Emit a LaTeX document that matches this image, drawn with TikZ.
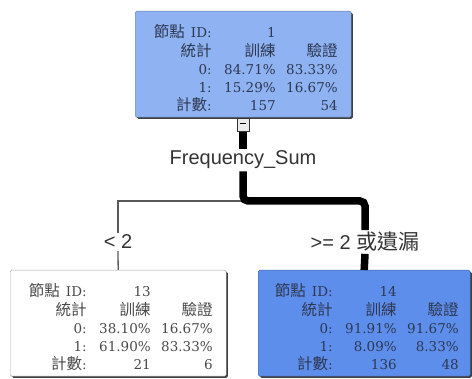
\documentclass[tikz,border=0pt]{standalone}
\usepackage{fontspec}
\usepackage{array}
\setmainfont{DejaVu Serif}
\setsansfont{Liberation Sans}
\newfontfamily\cjk{Noto Sans CJK TC}
\newcommand{\cj}[1]{{\cjk\fontsize{15.5}{18}\selectfont #1}}
\newcolumntype{R}[1]{>{\raggedleft\arraybackslash}p{#1}}
\usetikzlibrary{shadows}
\definecolor{topblue}{HTML}{8FB3F2}
\definecolor{deepblue}{HTML}{5E8EEB}
\definecolor{txtblue}{HTML}{2E3852}
\definecolor{txtgray}{HTML}{4A4A4A}
\setlength{\tabcolsep}{0pt}
\newcommand{\stats}[7]{%
  \raisebox{-6pt}[\height][\depth]{%
  \begin{tabular}{@{}R{63pt}R{64pt}R{62pt}@{}}
  \cj{節點}\hspace{6pt}ID: & #1 & \\
  \cj{統計} & \cj{訓練} & \cj{驗證}\\
  0: & #2 & #3\\
  1: & #4 & #5\\
  \cj{計數}: & #6 & #7\\
  \end{tabular}}}
\begin{document}
\begin{tikzpicture}[x=1pt,y=-1pt,
  treebox/.style={rectangle, rounded corners=1.5pt, minimum height=106pt,
    inner sep=0pt, anchor=north west, font=\fontsize{13.5}{18}\selectfont,
    drop shadow={shadow xshift=1.6pt, shadow yshift=-1.6pt, fill=black!75, opacity=1}},
  lbl/.style={font=\sffamily\fontsize{20}{22}\selectfont, text=black!80, inner sep=2pt},
  thickc/.style={line width=7.5pt, black, rounded corners=5pt},
  thinc/.style={line width=1.3pt, black!65},
  collapsebox/.style={draw=black!80, fill=black!8, line width=0.9pt, minimum width=12pt,
    minimum height=13pt, inner sep=0pt}]
\useasboundingbox (0,0) rectangle (472,379);
\node[treebox, fill=topblue, draw=topblue!70!black, minimum width=216pt, text=txtblue] (top) at (135,11)
  {\stats{1}{84.71\%}{83.33\%}{15.29\%}{16.67\%}{157}{54}};
\node[treebox, fill=white, draw=black!35, minimum width=216pt, text=txtgray] (left) at (10,270)
  {\stats{13}{38.10\%}{16.67\%}{61.90\%}{83.33\%}{21}{6}};
\node[treebox, fill=deepblue, draw=deepblue!70!black, minimum width=212pt, text=txtblue] (right) at (258,270)
  {\stats{14}{91.91\%}{91.67\%}{8.09\%}{8.33\%}{136}{48}};
\node[collapsebox] (col) at (243,125) {\rule[2.5pt]{6pt}{1.3pt}};
\node[lbl] (freq) at (243,160) {Frequency\_Sum};
\coordinate (bend) at (243,201);
\node[lbl] (lt) at (118,242) {< 2};
\node[lbl] (rt) at (365,242) {>= 2 {\cjk\fontsize{21}{22}\selectfont 或遺漏}};
\draw[thinc] (bend) -| (lt.north);
\draw[thinc] (lt.south) -- (left.north);
\draw[line width=7.5pt, black] (col.south) -- (freq.north);
\draw[thickc] (freq.south) -- (bend) -| (rt.north);
\draw[line width=7.5pt, black] (rt.south) -- (right.north);
\end{tikzpicture}
\end{document}
